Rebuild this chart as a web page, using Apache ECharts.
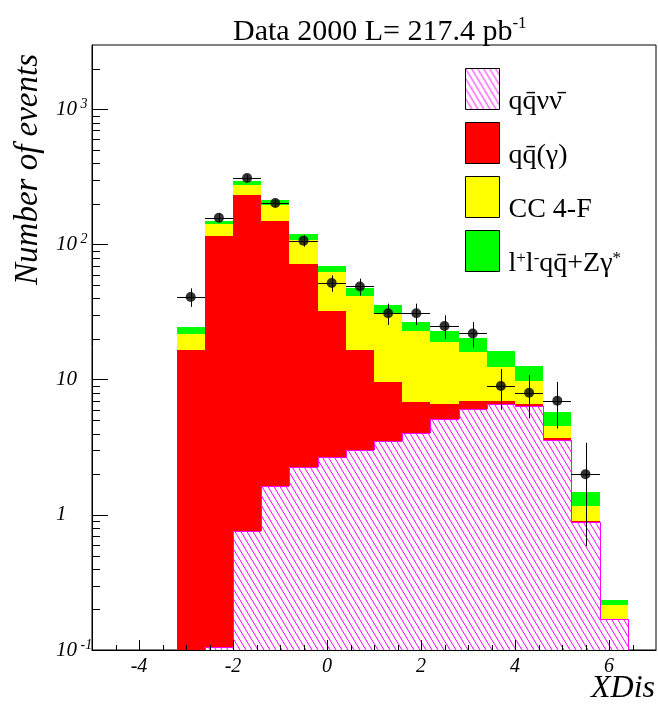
<!DOCTYPE html>
<html>
<head>
<meta charset="utf-8">
<script src="https://cdn.jsdelivr.net/npm/echarts@6/dist/echarts.min.js"></script>
<style>
html, body { margin: 0; padding: 0; background: #ffffff; }
#chart { width: 658px; height: 704px; }
</style>
</head>
<body>
<div id="chart"></div>
<script>
// Bin edges of the XDis histogram (16 bins, 0.6 wide)
const binEdges = [-3.2, -2.6, -2.0, -1.4, -0.8, -0.2, 0.4, 1.0, 1.6, 2.2, 2.8, 3.4, 4.0, 4.6, 5.2, 5.8, 6.4];

// Expected events per bin for each background process (stacked bottom to top)
const qqnunu  = [0, 0.105, 0.764, 1.64, 2.28, 2.67, 3.0, 3.50, 4.03, 5.09, 6.04, 6.66, 6.36, 3.56, 0.891, 0.171];
const qqgamma = [16.6, 116.0, 233.2, 148.4, 70.0, 29.7, 13.6, 6.08, 2.78, 1.57, 0.88, 0.26, 0.22, 0.12, 0.01, 0];
const cc4f    = [5.2, 26.5, 40.0, 47.0, 36.1, 30.7, 25.3, 21.0, 16.2, 12.4, 9.2, 5.5, 3.17, 0.84, 0.27, 0.045];
const llqqZg  = [2.7, 5.7, 23.0, 18.0, 11.6, 6.8, 5.6, 5.1, 3.8, 3.9, 4.2, 3.9, 2.85, 1.22, 0.30, 0.02];

// Observed events per bin
const dataCounts = [41, 158, 311, 203, 107, 52, 49, 31, 31, 25, 22, 9, 8, 7, 2, 0];

// Legend entries, bottom layer first
const processNames = ['qq\u0304\u03BD\u03BD\u0304', 'qq\u0304(\u03B3)', 'CC 4-F', 'l\u207Al\u207Bqq\u0304+Z\u03B3*'];
const processLabels = [
  '{n|qq\u0304\u03BD\u03BD\u0304}',
  '{n|qq\u0304(\u03B3)}',
  '{n|CC 4-F}',
  '{n|l}{p|+}{m|l}{p|-}{m|qq\u0304+Z\u03B3}{p|*}'
];
const processColors = ['hatch', '#ff0000', '#ffff00', '#00ff00'];

// Y-axis decade labels (exponent -> rich text)
const yDecadeLabels = {
  '-1': '{b|10}{s| -1}',
  '0': '{b|1}',
  '1': '{b|10}',
  '2': '{b|10}{s| 2}',
  '3': '{b|10}{s| 3}'
};

const SERIF = '"Liberation Serif", "Times New Roman", serif';

// Magenta diagonal hatch used for the qq-nu-nu component
function makeHatch() {
  const c = document.createElement('canvas');
  c.width = 6; c.height = 10;
  const g = c.getContext('2d');
  g.fillStyle = '#ffffff';
  g.fillRect(0, 0, 6, 10);
  g.strokeStyle = '#ff00ff';
  g.lineWidth = 1;
  for (const dx of [-6, 0, 6]) {
    g.beginPath();
    g.moveTo(dx, 0);
    g.lineTo(dx + 6, 10);
    g.stroke();
  }
  return c;
}
const hatchFill = { image: makeHatch(), repeat: 'repeat' };

// Cumulative stack tops
const layers = [qqnunu, qqgamma, cc4f, llqqZg];
const stackTops = [];
layers.forEach((arr, k) => {
  stackTops.push(arr.map((v, i) => v + (k > 0 ? stackTops[k - 1][i] : 0)));
});

function layerData(k) {
  const tops = stackTops[k];
  return tops.map((t, i) => [binEdges[i], binEdges[i + 1], t, i > 0 ? tops[i - 1] : 0, i === tops.length - 1 ? 1 : 0]);
}

function layerRenderer(k) {
  return function (params, api) {
    const cs = params.coordSys;
    const bottom = cs.y + cs.height;
    const x0 = Math.round(api.coord([api.value(0), 1])[0]);
    const x1 = Math.round(api.coord([api.value(1), 1])[0]);
    const top = api.value(2);
    const yOf = function (v) {
      if (!(v > 0)) return bottom;
      return Math.min(bottom, Math.round(api.coord([api.value(0), v])[1]));
    };
    const yTop = yOf(top);
    const children = [];
    if (yTop < bottom) {
      children.push({
        type: 'rect',
        shape: { x: x0, y: yTop, width: x1 - x0, height: bottom - yTop },
        style: { fill: k === 0 ? hatchFill : processColors[k] }
      });
    }
    if (k === 0) {
      const yPrev = yOf(api.value(3));
      const pts = [[x0 + 0.5, yPrev], [x0 + 0.5, yTop + 0.5], [x1 + 0.5, yTop + 0.5]];
      if (api.value(4) === 1) pts.push([x1 + 0.5, bottom]);
      children.push({
        type: 'polyline',
        shape: { points: pts },
        style: { stroke: '#ff00ff', lineWidth: 1, fill: null }
      });
    }
    return { type: 'group', children: children };
  };
}

const histSeries = [3, 2, 1, 0].map(k => ({
  name: processNames[k],
  type: 'custom',
  renderItem: layerRenderer(k),
  data: layerData(k),
  itemStyle: { color: k === 0 ? hatchFill : processColors[k] },
  encode: { x: [0, 1], y: 2 },
  clip: true,
  silent: true,
  z: 2 + (3 - k)
}));

// Data points with Poisson errors and bin-width horizontal bars
const pointData = [];
dataCounts.forEach((n, i) => {
  if (n > 0) pointData.push([(binEdges[i] + binEdges[i + 1]) / 2, n, binEdges[i], binEdges[i + 1], Math.sqrt(n)]);
});

const errorSeries = {
  type: 'custom',
  data: pointData,
  z: 10,
  silent: true,
  encode: { x: 0, y: 1 },
  renderItem: function (params, api) {
    const xc = api.value(0), n = api.value(1), e = api.value(4);
    const c = api.coord([xc, n]);
    const l = api.coord([api.value(2), n]);
    const r = api.coord([api.value(3), n]);
    const lo = n - e > 0 ? api.coord([xc, n - e])[1] : params.coordSys.y + params.coordSys.height;
    const hi = api.coord([xc, n + e])[1];
    const xm = Math.round(c[0]) + 0.5, ym = Math.round(c[1]) + 0.5;
    return {
      type: 'group',
      children: [
        { type: 'line', shape: { x1: Math.round(l[0]), y1: ym, x2: Math.round(r[0]), y2: ym }, style: { stroke: '#000', lineWidth: 1 } },
        { type: 'line', shape: { x1: xm, y1: hi, x2: xm, y2: lo }, style: { stroke: '#000', lineWidth: 1 } }
      ]
    };
  }
};

const pointSeries = {
  type: 'scatter',
  data: pointData.map(p => [p[0], p[1]]),
  symbol: 'circle',
  symbolSize: 10,
  itemStyle: { color: '#000' },
  z: 11,
  silent: true
};

// Minor tick marks on both axes
const xMinor = [];
for (let v = -4.5; v < 7; v += 0.5) { if (Math.abs(v / 2 - Math.round(v / 2)) > 1e-6) xMinor.push(v); }
const yMinor = [];
for (let e = -1; e <= 3; e++) {
  for (let m = 2; m <= 9; m++) { const v = m * Math.pow(10, e); if (v < 3000) yMinor.push(v); }
}

const xMinorSeries = {
  type: 'custom', silent: true, z: 12,
  data: xMinor.map(v => [v, 1]),
  renderItem: function (params, api) {
    const cs = params.coordSys;
    const x = Math.round(api.coord([api.value(0), 1])[0]) + 0.5;
    const b = cs.y + cs.height;
    return { type: 'line', shape: { x1: x, y1: b, x2: x, y2: b - 5 }, style: { stroke: '#000', lineWidth: 1 } };
  }
};
const yMinorSeries = {
  type: 'custom', silent: true, z: 12,
  data: yMinor.map(v => [0, v]),
  renderItem: function (params, api) {
    const cs = params.coordSys;
    const y = Math.round(api.coord([0, api.value(1)])[1]) + 0.5;
    return { type: 'line', shape: { x1: cs.x, y1: y, x2: cs.x + 8, y2: y }, style: { stroke: '#000', lineWidth: 1 } };
  }
};

const chart = echarts.init(document.getElementById('chart'), null, { renderer: 'canvas' });

chart.setOption({
  animation: false,
  backgroundColor: '#ffffff',
  title: {
    text: '{t|Data 2000 L= 217.4 pb}{s|-1}',
    left: 228,
    top: 10,
    textStyle: {
      rich: {
        t: { fontFamily: SERIF, fontSize: 30, fontWeight: 'normal', color: '#000', lineHeight: 34 },
        s: { fontFamily: SERIF, fontSize: 17, fontWeight: 'normal', color: '#000', verticalAlign: 'top', lineHeight: 34 }
      }
    }
  },
  grid: { left: 92, top: 45, width: 564, height: 605, show: true, borderColor: '#000', borderWidth: 1, backgroundColor: 'transparent' },
  legend: {
    orient: 'vertical',
    left: 460,
    top: 63,
    itemWidth: 34,
    itemHeight: 41,
    itemGap: 6,
    icon: 'rect',
    selectedMode: false,
    data: [processNames[0], processNames[1], processNames[2], processNames[3]],
    itemStyle: { borderColor: '#000', borderWidth: 1 },
    formatter: function (name) { return processLabels[processNames.indexOf(name)]; },
    textStyle: {
      rich: {
        n: { fontFamily: SERIF, fontSize: 28, color: '#000', lineHeight: 54, verticalAlign: 'bottom', padding: [0, 0, 0, 4] },
        m: { fontFamily: SERIF, fontSize: 28, color: '#000', lineHeight: 54, verticalAlign: 'bottom' },
        p: { fontFamily: SERIF, fontSize: 17, color: '#000', lineHeight: 54, verticalAlign: 'middle', padding: [16, 0, 0, 0] }
      }
    }
  },
  xAxis: {
    type: 'value',
    min: -5,
    max: 7,
    splitNumber: 6,
    z: 20,
    axisLine: { show: true, onZero: false, lineStyle: { color: '#000', width: 1 } },
    axisTick: { show: true, inside: true, length: 10, lineStyle: { color: '#000' } },
    splitLine: { show: false },
    axisLabel: {
      show: true, showMinLabel: false, showMaxLabel: false, margin: 7,
      fontFamily: SERIF, fontStyle: 'italic', fontSize: 20, color: '#000'
    }
  },
  yAxis: {
    type: 'log',
    logBase: 10,
    min: 0.1,
    max: 3000,
    z: 20,
    axisLine: { show: true, onZero: false, lineStyle: { color: '#000', width: 1 } },
    axisTick: { show: true, inside: true, length: 16, lineStyle: { color: '#000' } },
    splitLine: { show: false },
    axisLabel: {
      show: true, showMaxLabel: false, margin: 36, align: 'left',
      formatter: function (v) {
        const e = Math.round(Math.log10(v));
        if (Math.abs(Math.log10(v) - e) > 1e-6) return '';
        return yDecadeLabels[String(e)] || '';
      },
      rich: {
        b: { fontFamily: SERIF, fontStyle: 'italic', fontSize: 21, color: '#000', lineHeight: 24 },
        s: { fontFamily: SERIF, fontStyle: 'italic', fontSize: 14, color: '#000', lineHeight: 24, verticalAlign: 'top' }
      }
    }
  },
  graphic: [
    {
      type: 'text', x: 28, y: 54, rotation: Math.PI / 2, z: 50,
      style: { text: 'Number of events', font: 'italic 33px ' + SERIF, fill: '#000', align: 'right', verticalAlign: 'middle' }
    },
    {
      type: 'text', x: 655, y: 689, z: 50,
      style: { text: 'XDis', font: 'italic 32px ' + SERIF, fill: '#000', align: 'right', verticalAlign: 'middle' }
    }
  ],
  series: histSeries.concat([errorSeries, pointSeries, xMinorSeries, yMinorSeries])
});
</script>
</body>
</html>
